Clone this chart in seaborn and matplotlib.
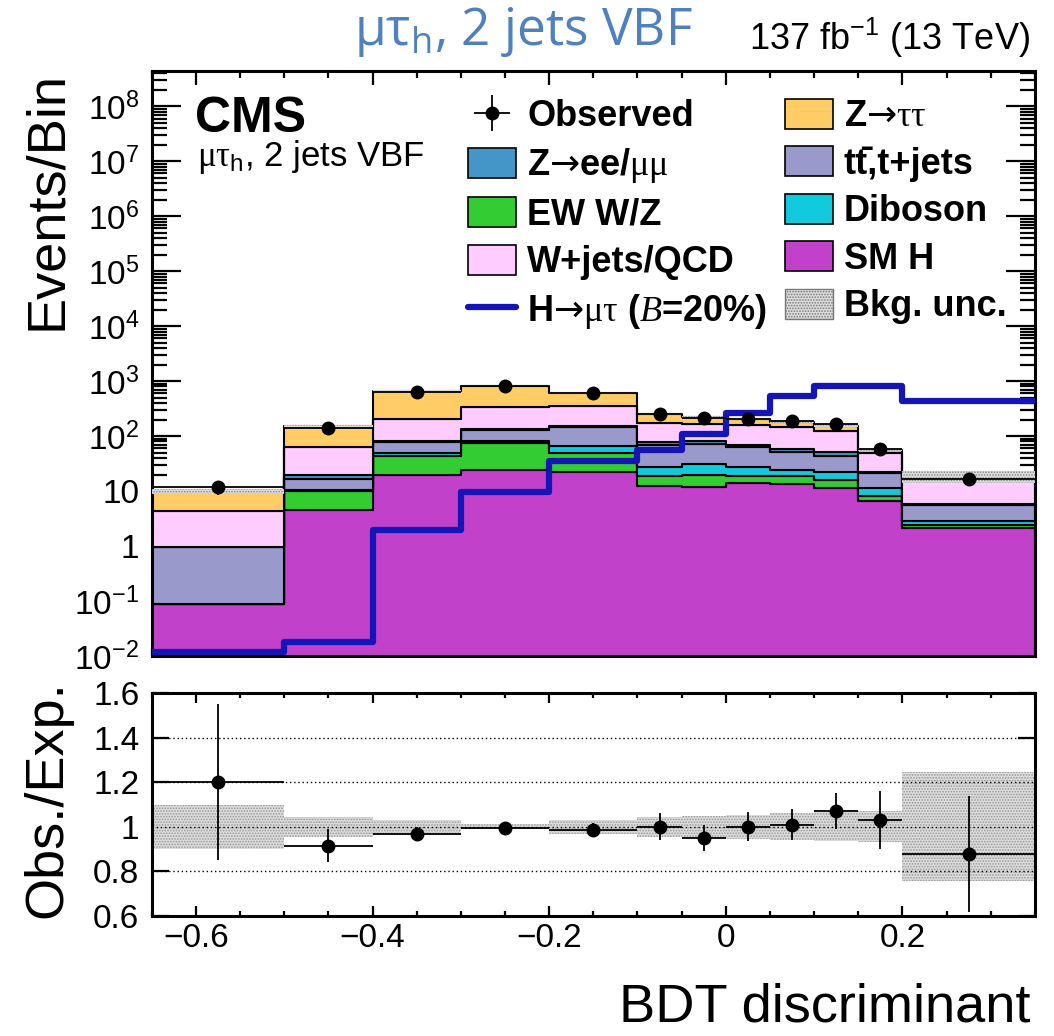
import numpy as np
import pandas as pd
import matplotlib
matplotlib.use("Agg")
import matplotlib.pyplot as plt
import seaborn as sns
from matplotlib.patches import Patch
from matplotlib.lines import Line2D
from matplotlib.ticker import (FuncFormatter, NullFormatter, LogLocator,
                               MultipleLocator, NullLocator)

# ------------------------------------------------------------------ data
bin_edges = [-0.65, -0.5, -0.4, -0.3, -0.2, -0.1, -0.05, 0.0, 0.05, 0.1, 0.15, 0.2, 0.35]
sm_h      = [0.087, 4.6, 20, 24, 22, 12.6, 11.8, 14, 13.6, 11.3, 6.7, 2.1]
ew_wz     = [0.001, 5.5, 24, 51, 28, 6.6, 8.2, 5.2, 5.1, 4.3, 1.4, 0.3]
diboson   = [0.002, 0.2, 5, 6, 16, 8.1, 11, 8.1, 5.0, 6.4, 3.2, 0.45]
ttbar     = [0.87, 6.4, 29, 51, 80, 41.7, 41.5, 35.7, 27.3, 22, 9.9, 2.85]
z_ll      = [0.01, 3.0, 5, 4, 4, 9, 7.5, 6, 8, 7, 1.5, 0.1]
w_qcd     = [3.34, 43, 123, 201, 201, 97, 87, 91, 87, 75, 26.3, 10.9]
z_tautau  = [5.7, 87, 452, 493, 261, 79, 54, 46, 38, 30, 8, 1.9]
observed  = [12, 140, 640, 830, 600, 255, 210, 206, 186, 165, 59, 16.5]
signal    = [0.012, 0.018, 2.0, 9.8, 35, 55, 110, 265, 533, 830, 810, 444]
ratio     = [1.20, 0.915, 0.97, 0.995, 0.985, 1.0, 0.95, 1.0, 1.01, 1.07, 1.03, 0.88]
ratio_err = [0.35, 0.075, 0.03, 0.02, 0.03, 0.06, 0.06, 0.065, 0.07, 0.08, 0.13, 0.26]
bkg_unc   = [0.10, 0.045, 0.03, 0.012, 0.032, 0.045, 0.05, 0.055, 0.06, 0.065, 0.07, 0.245]

# ------------------------------------------------------------------ style
sns.set_theme(style="ticks")
plt.rcParams["font.family"] = ["Liberation Sans", "DejaVu Sans"]
plt.rcParams["mathtext.fontset"] = "custom"
plt.rcParams["mathtext.rm"] = "Liberation Sans"
plt.rcParams["mathtext.it"] = "Liberation Sans:italic"
plt.rcParams["mathtext.bf"] = "Liberation Sans:bold"
plt.rcParams["mathtext.sf"] = "Open Sans"
plt.rcParams["mathtext.tt"] = "Liberation Serif"
plt.rcParams["mathtext.cal"] = "Liberation Serif:italic"
if "mathtext.bfit" in plt.rcParams:
    plt.rcParams["mathtext.bfit"] = "DejaVu Sans"
    ARROW = "$\\mathbfit{\u2192}$"
else:
    ARROW = "\u2192"
plt.rcParams["text.color"] = "black"
plt.rcParams["axes.labelcolor"] = "black"
plt.rcParams["axes.edgecolor"] = "black"
plt.rcParams["axes.linewidth"] = 2.2
plt.rcParams["xtick.color"] = "black"
plt.rcParams["ytick.color"] = "black"
plt.rcParams["hatch.linewidth"] = 0.8

lab_ztt = "Z" + ARROW + "$\\mathtt{\\tau\\tau}$"
lab_zll = "Z" + ARROW + "ee/$\\mathtt{\\mu\\mu}$"
lab_tt = "tt\u0304,t+jets"
lab_ew = "EW W/Z"
lab_vv = "Diboson"
lab_wj = "W+jets/QCD"
lab_smh = "SM H"
lab_sig = "H" + ARROW + "$\\mathtt{\\mu\\tau}$ ($\\mathcal{B}$=20%)"

# stacking order, top to bottom (seaborn stacks the last level at the bottom)
stack_order = [lab_ztt, lab_wj, lab_zll, lab_tt, lab_vv, lab_ew, lab_smh]
stack_vals = {lab_ztt: z_tautau, lab_wj: w_qcd, lab_zll: z_ll, lab_tt: ttbar,
              lab_vv: diboson, lab_ew: ew_wz, lab_smh: sm_h}
palette = {lab_ztt: "#FFCC66", lab_wj: "#FECCFE", lab_zll: "#4496C8",
           lab_tt: "#9999CC", lab_vv: "#12CADD", lab_ew: "#33CC33",
           lab_smh: "#C241CB"}
sig_color = "#1515B5"
title_blue = "#4F81BD"

edges = np.array(bin_edges)
centers = 0.5 * (edges[:-1] + edges[1:])
halfw = 0.5 * np.diff(edges)

df = pd.DataFrame([
    {"x": c, "w": v, "proc": p}
    for p in stack_order for c, v in zip(centers, stack_vals[p])
])
total = np.sum([np.array(stack_vals[p]) for p in stack_order], axis=0)

fig = plt.figure(figsize=(10.54, 10.36), dpi=100)
ax1 = fig.add_axes([0.1440, 0.3668, 0.8378, 0.5647])
ax2 = fig.add_axes([0.1440, 0.1158, 0.8378, 0.2153])

# ------------------------------------------------------------------ top panel
sns.histplot(data=df, x="x", weights="w", hue="proc", hue_order=stack_order,
             palette=palette, multiple="stack", element="step", bins=bin_edges,
             edgecolor="black", linewidth=1.5, alpha=1, legend=False, ax=ax1)

unc_lo = np.append(total * (1 - np.array(bkg_unc)), total[-1] * (1 - bkg_unc[-1]))
unc_hi = np.append(total * (1 + np.array(bkg_unc)), total[-1] * (1 + bkg_unc[-1]))
ax1.fill_between(edges, unc_lo, unc_hi, step="post", facecolor="#dddddd",
                 edgecolor="#888888", hatch="......", linewidth=0, zorder=3)

sns.histplot(x=centers, weights=signal, bins=bin_edges, element="step",
             fill=False, color=sig_color, linewidth=4.5, ax=ax1, zorder=4)

obs_h = ax1.errorbar(centers, observed, yerr=np.sqrt(observed), xerr=halfw,
                     fmt="o", color="black", ms=9, elinewidth=1.3, capsize=0,
                     zorder=5)

ax1.set_yscale("log")
ax1.set_xlim(-0.65, 0.35)
ax1.set_ylim(0.01, 4.4e8)


def logfmt(v, pos):
    n = int(round(np.log10(v)))
    if n == 0:
        return "1"
    if n == 1:
        return "10"
    return r"$\mathregular{10^{%d}}$" % n


ax1.yaxis.set_major_locator(LogLocator(base=10, numticks=20))
ax1.yaxis.set_minor_locator(LogLocator(base=10, subs=np.arange(2, 10), numticks=20))
ax1.yaxis.set_major_formatter(FuncFormatter(logfmt))
ax1.yaxis.set_minor_formatter(NullFormatter())
ax1.xaxis.set_major_locator(MultipleLocator(0.2))
ax1.xaxis.set_minor_locator(MultipleLocator(0.05))
ax1.tick_params(axis="x", which="both", labelbottom=False)
ax1.tick_params(which="both", direction="in", top=True, right=True, width=1.6)
ax1.tick_params(axis="x", which="major", length=10)
ax1.tick_params(axis="x", which="minor", length=5)
ax1.tick_params(axis="y", which="major", length=21, labelsize=24, pad=9)
ax1.tick_params(axis="y", which="minor", length=11)
ax1.set_xlabel("")
ax1.set_ylabel("Events/Bin", fontsize=39, loc="top")
ax1.yaxis.set_label_coords(-0.09, 1.0)

# legend
lfont = {"family": ["Liberation Sans", "DejaVu Sans"], "weight": "bold", "size": 26}


def box(c, lab):
    return Patch(facecolor=c, edgecolor="black", linewidth=1.2, label=lab)


left_h = [obs_h, box(palette[lab_zll], lab_zll), box(palette[lab_ew], lab_ew),
          box(palette[lab_wj], lab_wj),
          Line2D([], [], color=sig_color, lw=4.5)]
left_l = ["Observed", lab_zll, lab_ew, lab_wj, lab_sig]
right_h = [box(palette[lab_ztt], lab_ztt), box(palette[lab_tt], lab_tt),
           box(palette[lab_vv], lab_vv), box(palette[lab_smh], lab_smh),
           Patch(facecolor="#dddddd", edgecolor="#777777", hatch="......",
                 linewidth=1.0)]
right_l = [lab_ztt, lab_tt, lab_vv, lab_smh, "Bkg. unc."]

leg_kw = dict(frameon=False, prop=lfont, handlelength=1.33, handleheight=0.9,
              handletextpad=0.3, labelspacing=0.33, borderpad=0, borderaxespad=0,
              loc="upper left")
leg1 = ax1.legend(left_h, left_l, bbox_to_anchor=(0.3585, 0.952), **leg_kw)
ax1.add_artist(leg1)
leg2 = ax1.legend(right_h, right_l, bbox_to_anchor=(0.717, 0.952), **leg_kw)

ax1.text(0.049, 0.957, "CMS", transform=ax1.transAxes, fontsize=36,
         fontweight="bold", va="top", ha="left")
ax1.text(0.051, 0.838, r"$\mathtt{\mu\tau}_{\mathrm{h}}$, 2 jets VBF",
         transform=ax1.transAxes, fontsize=25, va="baseline", ha="left")

fig.text(0.336, 0.9566, r"$\mathsf{\mu\tau_h}$, 2 jets VBF", family="Open Sans",
         fontsize=37, color=title_blue, va="baseline", ha="left")
fig.text(0.977, 0.952, r"137 fb$^{-1}$ (13 TeV)", fontsize=26,
         va="baseline", ha="right")

# ------------------------------------------------------------------ ratio panel
unc_lo_r = np.append(1 - np.array(bkg_unc), 1 - bkg_unc[-1])
unc_hi_r = np.append(1 + np.array(bkg_unc), 1 + bkg_unc[-1])
ax2.fill_between(edges, unc_lo_r, unc_hi_r, step="post", facecolor="#dcdcdc",
                 edgecolor="#999999", hatch="......", linewidth=0, zorder=1)
for yv in [0.8, 1.0, 1.2, 1.4]:
    ax2.axhline(yv, color="black", ls=(0, (1, 2)), lw=1.0, zorder=2)
ax2.errorbar(centers, ratio, yerr=ratio_err, xerr=halfw, fmt="o", color="black",
             ms=9, elinewidth=1.3, capsize=0, zorder=5)
ax2.set_xlim(-0.65, 0.35)
ax2.set_ylim(0.6, 1.6)
ax2.xaxis.set_major_locator(MultipleLocator(0.2))
ax2.xaxis.set_minor_locator(MultipleLocator(0.05))
ax2.yaxis.set_major_locator(MultipleLocator(0.2))
ax2.yaxis.set_minor_locator(NullLocator())


def xfmt(v, pos):
    if abs(v) < 1e-9:
        return "0"
    return ("%.1f" % v).replace("-", "\u2212")


def rfmt(v, pos):
    if abs(v - 1) < 1e-9:
        return "1"
    return "%.1f" % v


ax2.xaxis.set_major_formatter(FuncFormatter(xfmt))
ax2.yaxis.set_major_formatter(FuncFormatter(rfmt))
ax2.tick_params(which="both", direction="in", top=True, right=True, width=1.6,
                labelsize=24)
ax2.tick_params(axis="x", which="major", length=7, pad=5)
ax2.tick_params(axis="x", which="minor", length=3.5)
ax2.tick_params(axis="y", which="major", length=12, pad=9)
ax2.set_ylabel("Obs./Exp.", fontsize=39, loc="top")
ax2.yaxis.set_label_coords(-0.09, 1.058)
ax2.set_xlabel("BDT discriminant", fontsize=39, loc="right")
ax2.xaxis.set_label_coords(0.995, -0.30)

fig.savefig("out.png", dpi=100)
